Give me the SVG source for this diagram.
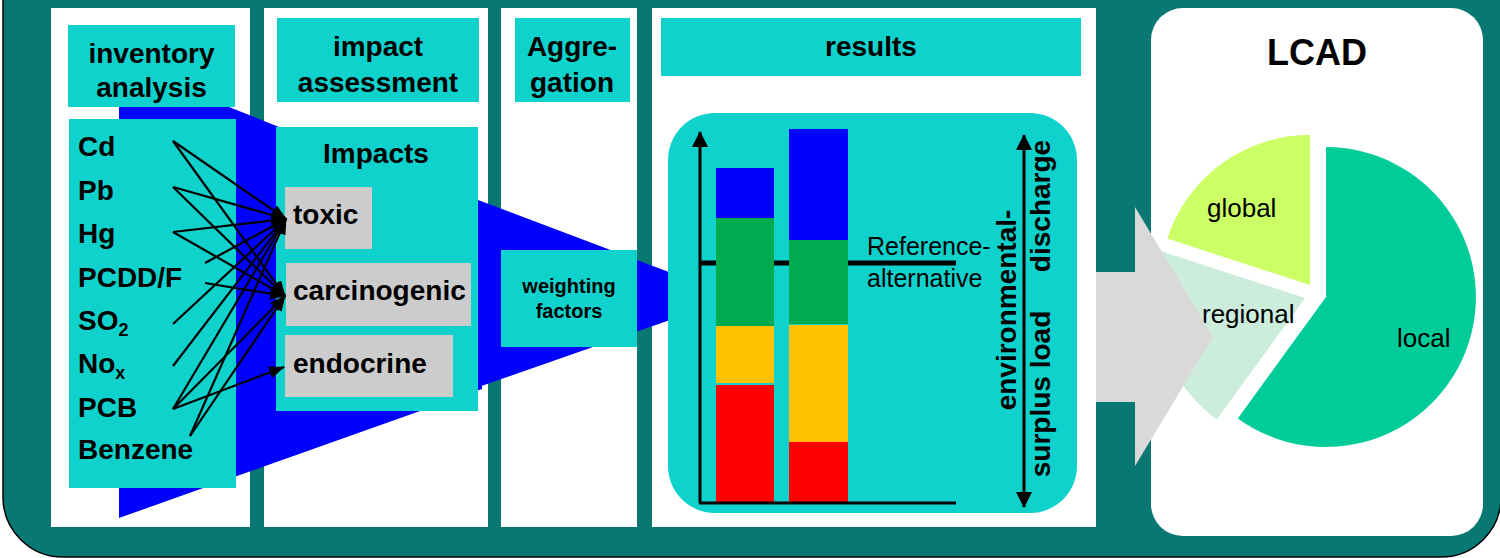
<svg xmlns="http://www.w3.org/2000/svg" width="1500" height="558" viewBox="0 0 1500 558">
  <style>
    .panel { fill: #ffffff; }
    .cyan { fill: #10d2cc; }
    .grey { fill: #cccccc; }
    .funnel { fill: #0000ff; }
    .b { font-family: "Liberation Sans", Arial, sans-serif; font-weight: bold; fill: #000; }
    .r { font-family: "Liberation Sans", Arial, sans-serif; fill: #000; }
    .h { font-size: 28px; text-anchor: middle; }
    .el { font-size: 28px; }
    .sub { font-size: 18px; }
    .lnk { stroke: #000; stroke-width: 2.2; fill: none; marker-end: url(#ah); }
    .axis { stroke: #000; stroke-width: 3; fill: none; }
  </style>
  <defs>
    <marker id="ah" viewBox="0 0 16 12" refX="15" refY="6" markerWidth="16" markerHeight="12" markerUnits="userSpaceOnUse" orient="auto">
      <path d="M0,0 L16,6 L0,12 z" fill="#000"/>
    </marker>
    <marker id="ax" viewBox="0 0 16 16" refX="15" refY="8" markerWidth="16" markerHeight="16" markerUnits="userSpaceOnUse" orient="auto-start-reverse">
      <path d="M0,0 L16,8 L0,16 z" fill="#000"/>
    </marker>
  </defs>

  <!-- outer frame -->
  <rect x="3" y="-100" width="1498" height="657" rx="60" ry="60" fill="#097873" stroke="#000" stroke-width="1.5"/>

  <!-- column panels -->
  <g id="panels">
    <rect class="panel" x="51" y="8" width="199" height="519"/>
    <rect class="panel" x="264" y="8" width="224" height="519"/>
    <rect class="panel" x="501" y="8" width="136" height="519"/>
    <rect class="panel" x="652" y="8" width="444" height="519"/>
    <rect class="panel" x="1151" y="8" width="332" height="528" rx="32" ry="32"/>
  </g>

  <!-- flow funnel -->
  <g id="funnel">
    <polygon class="funnel" points="119,63 482,208 482,389 119,518"/>
    <polygon class="funnel" points="470,197 690,280 690,313 470,390"/>
  </g>

  <!-- column headers -->
  <g id="hdr-inventory">
    <rect class="cyan" x="68" y="25" width="167" height="82"/>
    <text class="b h" x="151.5" y="63">inventory</text>
    <text class="b h" x="151.5" y="97">analysis</text>
  </g>
  <g id="hdr-impact">
    <rect class="cyan" x="277" y="18" width="202" height="84"/>
    <text class="b h" x="378" y="56">impact</text>
    <text class="b h" x="378" y="92">assessment</text>
  </g>
  <g id="hdr-aggregation">
    <rect class="cyan" x="515" y="18" width="115" height="84"/>
    <text class="b h" x="572" y="56">Aggre-</text>
    <text class="b h" x="572" y="92">gation</text>
  </g>
  <g id="hdr-results">
    <rect class="cyan" x="661" y="18" width="420" height="58"/>
    <text class="b h" x="871" y="56">results</text>
  </g>
  <g id="hdr-lcad">
    <text class="b" x="1317" y="65" font-size="36" text-anchor="middle">LCAD</text>
  </g>

  <!-- substances -->
  <g id="substances">
    <rect class="cyan" x="69" y="119" width="167" height="369"/>
    <text class="b el" x="78" y="156">Cd</text>
    <text class="b el" x="78" y="200">Pb</text>
    <text class="b el" x="78" y="243">Hg</text>
    <text class="b el" x="78" y="287">PCDD/F</text>
    <text class="b el" x="78" y="330">SO<tspan class="sub" dy="6">2</tspan></text>
    <text class="b el" x="78" y="373">No<tspan class="sub" dy="6">x</tspan></text>
    <text class="b el" x="78" y="417">PCB</text>
    <text class="b el" x="78" y="459">Benzene</text>
  </g>

  <!-- impact categories -->
  <g id="impacts">
    <rect class="cyan" x="276" y="127" width="202" height="284"/>
    <text class="b h" x="376" y="163">Impacts</text>
  </g>
  <g id="toxic">
    <rect class="grey" x="285" y="187" width="87" height="62"/>
    <text class="b el" x="293" y="224">toxic</text>
  </g>
  <g id="carcinogenic">
    <rect class="grey" x="286" y="263" width="185" height="63"/>
    <text class="b el" x="293" y="300">carcinogenic</text>
  </g>
  <g id="endocrine">
    <rect class="grey" x="285" y="335" width="168" height="62"/>
    <text class="b el" x="293" y="373">endocrine</text>
  </g>

  <!-- weighting -->
  <g id="weighting">
    <rect class="cyan" x="501" y="250" width="136" height="97"/>
    <text class="b" x="569" y="293" font-size="20" text-anchor="middle">weighting</text>
    <text class="b" x="569" y="318" font-size="20" text-anchor="middle">factors</text>
  </g>

  <!-- substance to impact links -->
  <g id="connectors">
    <line class="lnk" x1="173" y1="141" x2="286" y2="219"/>
    <line class="lnk" x1="173" y1="141" x2="285" y2="296"/>
    <line class="lnk" x1="173" y1="187" x2="286" y2="219"/>
    <line class="lnk" x1="173" y1="187" x2="285" y2="296"/>
    <line class="lnk" x1="173" y1="232" x2="286" y2="219"/>
    <line class="lnk" x1="173" y1="232" x2="285" y2="296"/>
    <line class="lnk" x1="205" y1="263" x2="286" y2="219"/>
    <line class="lnk" x1="205" y1="283" x2="285" y2="296"/>
    <line class="lnk" x1="173" y1="324" x2="286" y2="219"/>
    <line class="lnk" x1="173" y1="366" x2="286" y2="219"/>
    <line class="lnk" x1="173" y1="409" x2="286" y2="219"/>
    <line class="lnk" x1="173" y1="409" x2="285" y2="296"/>
    <line class="lnk" x1="173" y1="409" x2="284" y2="367"/>
    <line class="lnk" x1="190" y1="436" x2="286" y2="219"/>
    <line class="lnk" x1="190" y1="436" x2="285" y2="296"/>
  </g>

  <!-- results chart -->
  <g id="results-chart">
    <rect class="cyan" x="668" y="113" width="409" height="400" rx="47" ry="47"/>
    <line x1="700" y1="263" x2="956" y2="263" stroke="#000" stroke-width="5"/>
    <rect x="716" y="168" width="58" height="50" fill="#0000ff"/>
    <rect x="716" y="218" width="58" height="108" fill="#00ab50"/>
    <rect x="716" y="326" width="58" height="57" fill="#ffc000"/>
    <rect x="716" y="385" width="58" height="118" fill="#ff0000"/>
    <rect x="789" y="129" width="59" height="111" fill="#0000ff"/>
    <rect x="789" y="240" width="59" height="84" fill="#00ab50"/>
    <rect x="789" y="325" width="59" height="117" fill="#ffc000"/>
    <rect x="789" y="442" width="59" height="61" fill="#ff0000"/>
    <line class="axis" x1="700" y1="503" x2="700" y2="132" marker-end="url(#ax)"/>
    <line class="axis" x1="699" y1="503" x2="956" y2="503"/>
    <line class="axis" x1="1024" y1="135" x2="1024" y2="507" marker-start="url(#ax)" marker-end="url(#ax)"/>
    <text class="r" x="867" y="255" font-size="25">Reference-</text>
    <text class="r" x="867" y="287" font-size="25">alternative</text>
    <text class="b" font-size="28" text-anchor="middle" transform="translate(1016,310) rotate(-90)">environmental-</text>
    <text class="b" font-size="28" text-anchor="middle" transform="translate(1050,206) rotate(-90)">discharge</text>
    <text class="b" font-size="28" text-anchor="middle" transform="translate(1050,394) rotate(-90)">surplus load</text>
  </g>

  <!-- LCAD pie -->
  <g id="lcad-pie">
    <path d="M1326,297 L1326,147 A150,150 0 1 1 1237.8,418.4 Z" fill="#00cc99"/>
    <path d="M1305,298 L1216.8,419.4 A150,150 0 0 1 1162.3,251.6 Z" fill="#ccecdc"/>
    <path d="M1310,285 L1167.3,238.6 A150,150 0 0 1 1310,135 Z" fill="#ccff66"/>
    <text class="r" x="1207" y="217" font-size="26">global</text>
    <text class="r" x="1202" y="323" font-size="26">regional</text>
    <text class="r" x="1397" y="347" font-size="26">local</text>
  </g>

  <!-- transfer arrow -->
  <g id="transfer-arrow">
    <polygon points="1096,272 1135,272 1135,207 1213,337 1135,466 1135,402 1096,402" fill="#d9d9d9"/>
  </g>
</svg>
